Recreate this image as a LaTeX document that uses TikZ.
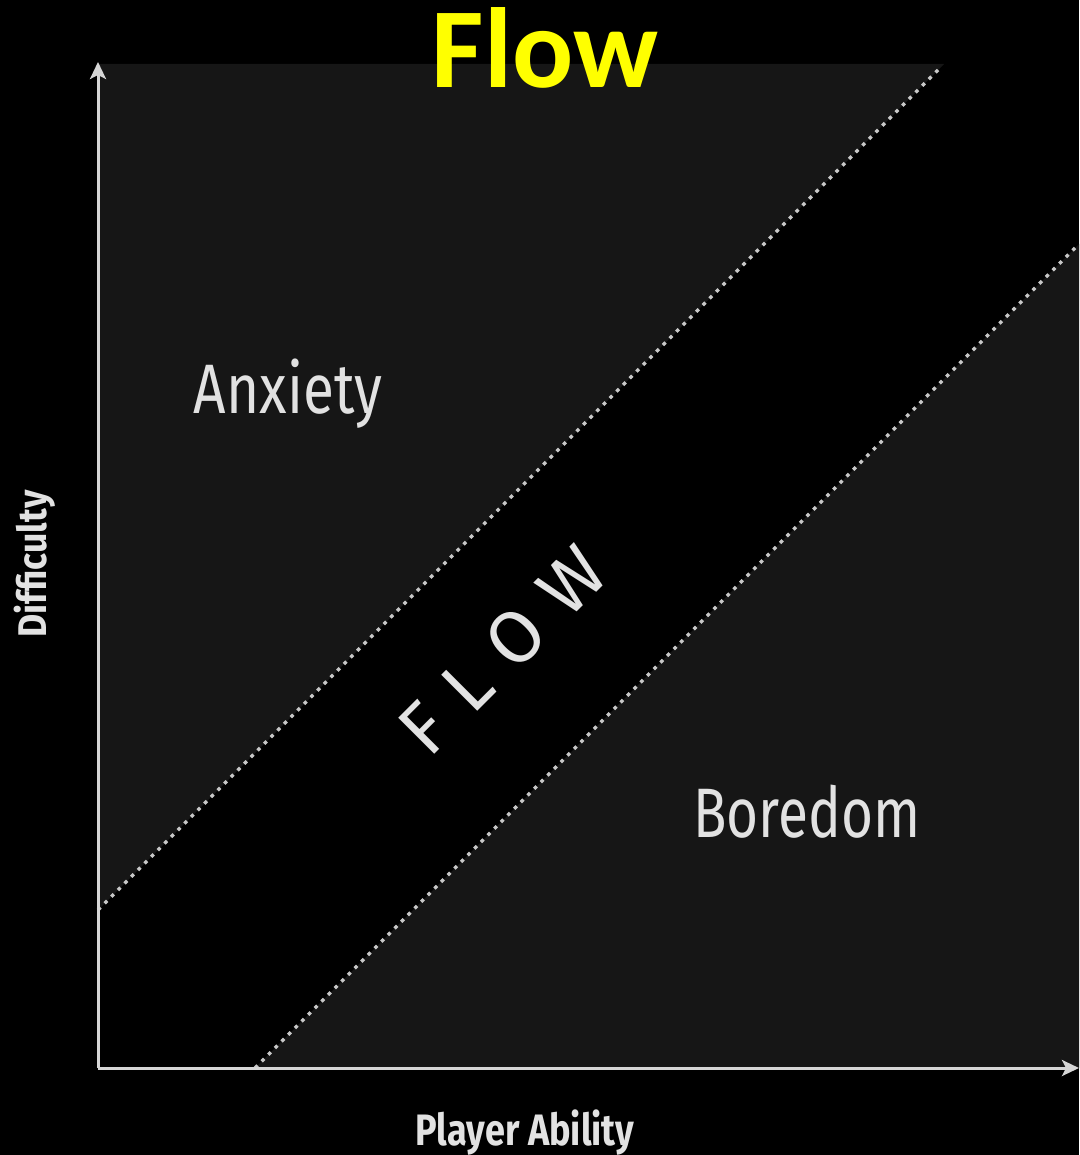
\documentclass[tikz,border=0pt]{standalone}
\usepackage{fontspec}
\setmainfont{Fira Sans}
\newfontfamily\titlefont{Carlito}
\usetikzlibrary{arrows.meta}
\definecolor{regiongray}{HTML}{161616}
\definecolor{axisgray}{HTML}{D6D6D6}
\definecolor{dotgray}{HTML}{C8C8C8}
\definecolor{labelgray}{HTML}{E2E2E2}
\definecolor{titleyellow}{HTML}{FFFF00}
\tikzset{
  axisline/.style={draw=axisgray, line width=3pt, -{Stealth[length=17pt,width=16pt,inset=4pt]}},
  dotline/.style={draw=dotgray, line width=3.4pt, dash pattern=on 3.6pt off 5.8pt},
  region/.style={fill=regiongray},
  zonelabel/.style={text=labelgray, font=\fontsize{70}{70}\selectfont, inner sep=0pt},
  axislabel/.style={text=labelgray, font=\bfseries\fontsize{44}{44}\selectfont, inner sep=0pt},
}
\begin{document}
\begin{tikzpicture}[x=1pt,y=-1pt]
\useasboundingbox[fill=black] (0,0) rectangle (1079,1155);
% coordinates
\coordinate (O) at (98,1068);
\coordinate (ytop) at (98,62);
\coordinate (xend) at (1079,1068);
\coordinate (u1) at (98,910);
\coordinate (u2) at (944,64);
\coordinate (l1) at (255,1068);
\coordinate (l2) at (1079,244);
% regions
\fill[regiongray] (98,64) -- (u2) -- (u1) -- cycle;
\fill[regiongray] (l1) -- (l2) -- (1079,1068) -- cycle;
% dotted boundaries
\draw[dotline] (u1) -- (939,69);
\draw[dotline] (l1) -- (l2);
% axes
\draw[axisline] (O) -- (ytop);
\draw[axisline] (O) -- (xend);
% title
\node[anchor=base, inner sep=0pt, text=titleyellow, font=\titlefont\bfseries\fontsize{114}{114}\selectfont] (title) at (545,88) {Flow};
% zone labels
\node[zonelabel, anchor=base] (anx) at (288,413) {\scalebox{0.81}[1]{Anxiety}};
\node[zonelabel, anchor=base] (bor) at (807,837) {\scalebox{0.785}[1]{Boredom}};
\node[text=labelgray, inner sep=0pt, rotate=45, font=\fontsize{74}{74}\selectfont] (flow) at (503,650) {F\hspace{24pt}L\hspace{24pt}O\hspace{24pt}W};
% axis labels
\node[axislabel, anchor=base] (pa) at (525,1145) {\scalebox{0.82}[1]{Player Ability}};
\node[axislabel, anchor=base, rotate=90, font=\bfseries\fontsize{40}{40}\selectfont] (diff) at (46,564) {\scalebox{0.89}[1]{Difficulty}};
\end{tikzpicture}
\end{document}
